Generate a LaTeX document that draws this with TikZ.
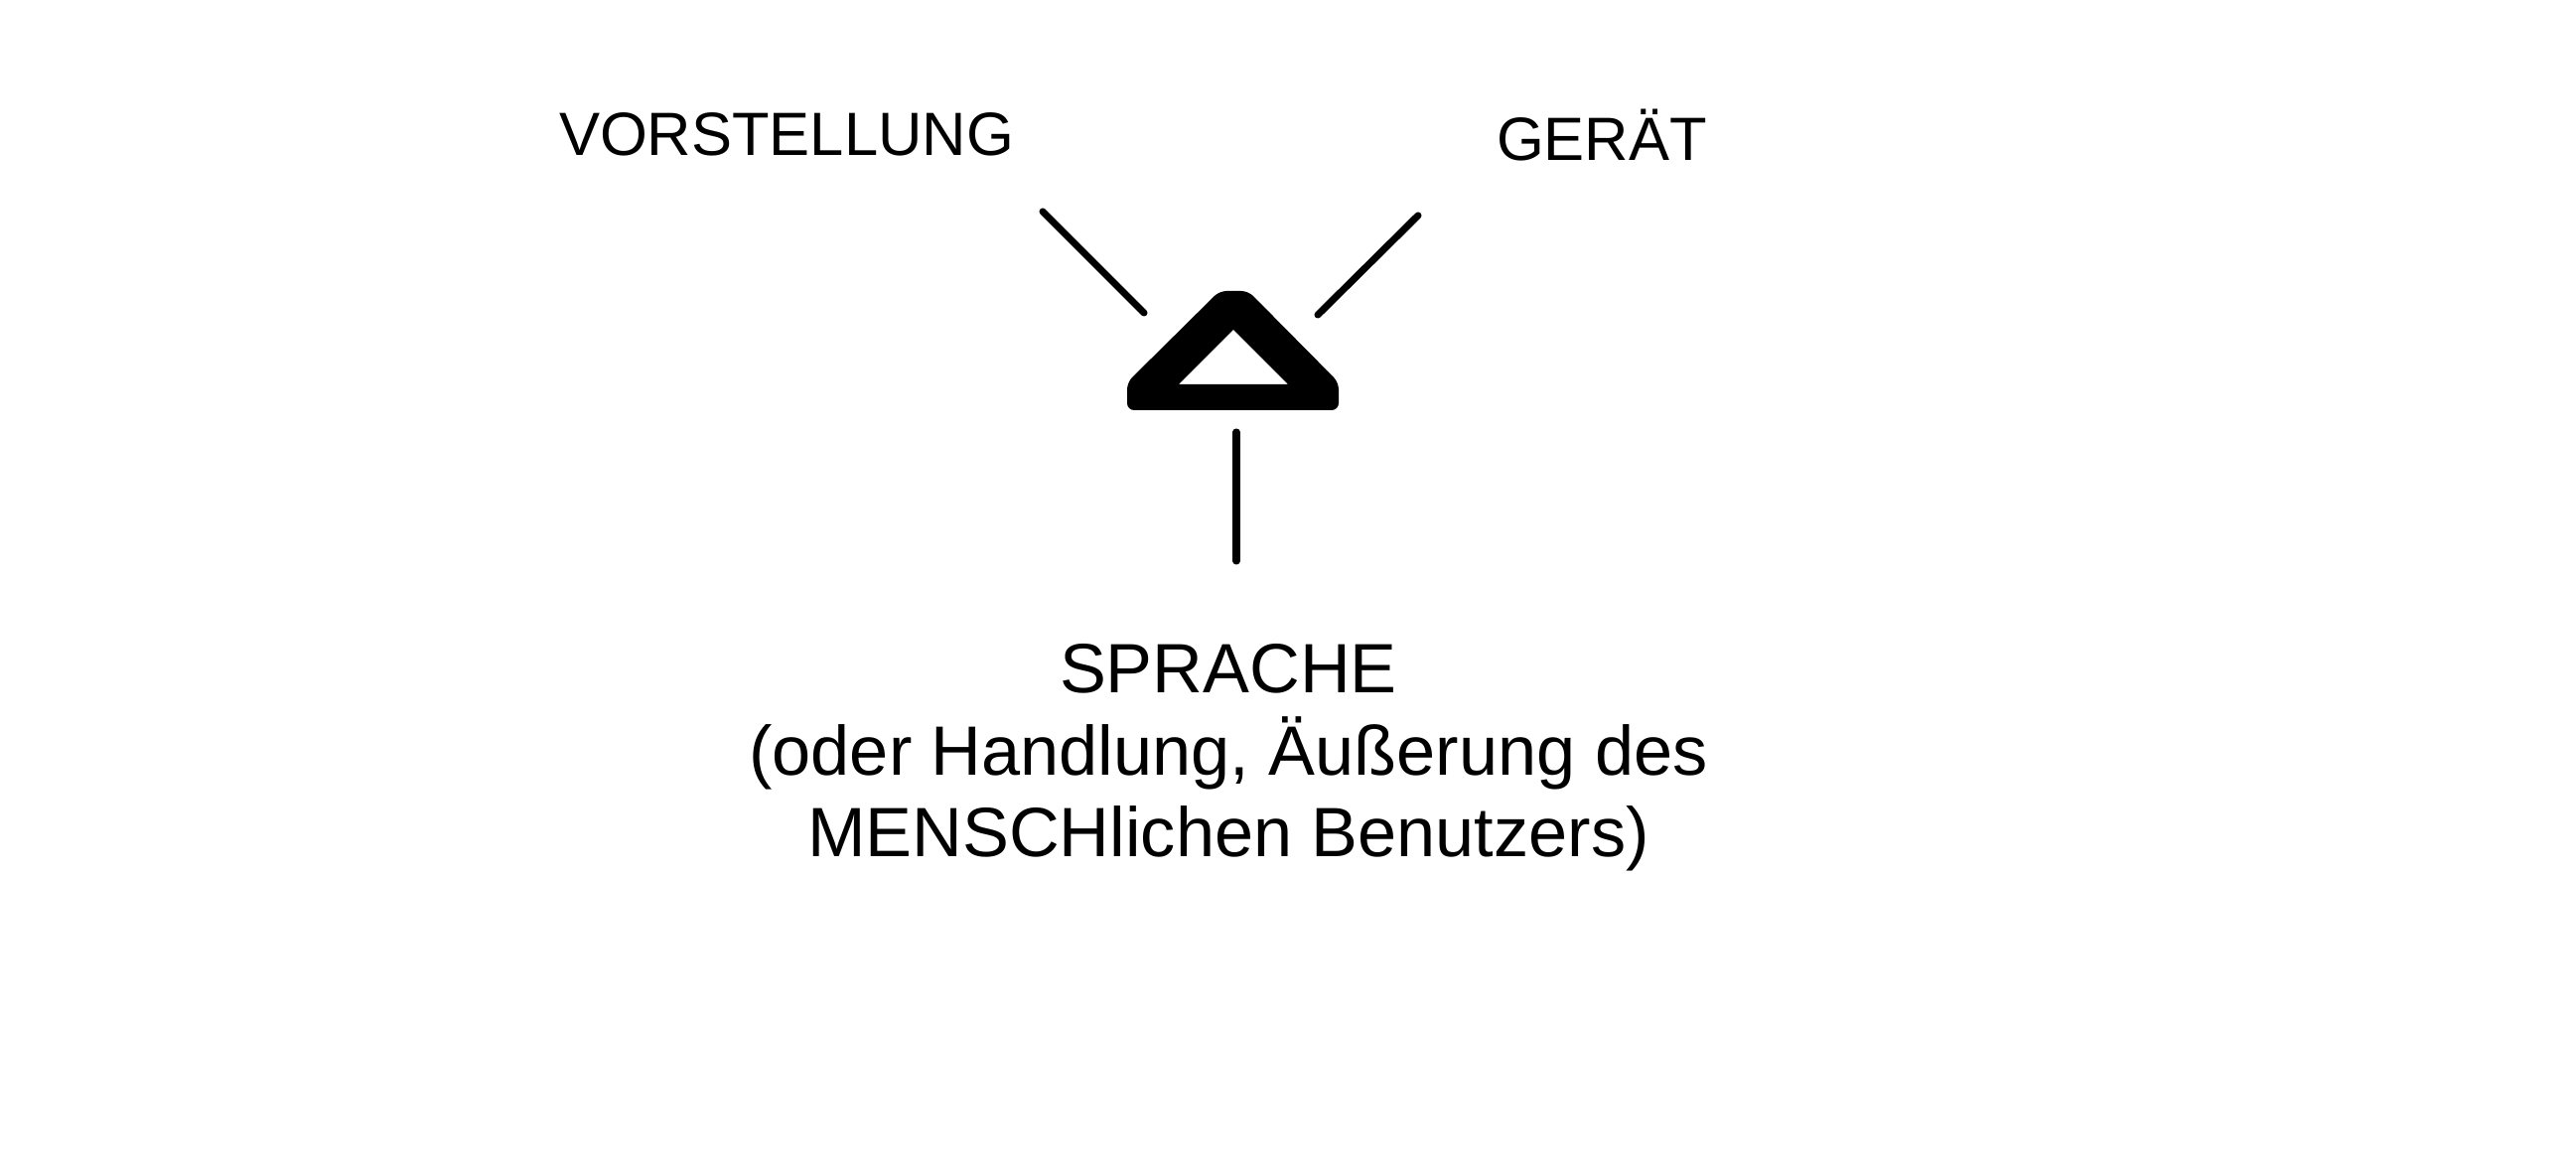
\documentclass[tikz,border=0pt]{standalone}
\usepackage{fontspec}
\setmainfont{Liberation Sans}
\usetikzlibrary{positioning,calc}

\begin{document}
\begin{tikzpicture}[
  lbl/.style={font=\fontsize{17.5}{21}\selectfont, inner sep=0pt, anchor=base},
  ray/.style={line width=2pt, line cap=round}]
  \useasboundingbox (0,0) rectangle (25.94,11.78);
  % thick triangle in the middle
  \fill[even odd rule, rounded corners=2pt] (11.35,7.65) -- (11.35,7.93) -- (12.28,8.85) -- (12.57,8.85) -- (13.48,7.93) -- (13.48,7.65) -- cycle
    [sharp corners] (11.87,7.91) -- (12.97,7.91) -- (12.42,8.46) -- cycle;
  \node[lbl](vorst) at (7.92,10.21){VORSTELLUNG};
  \node[lbl](geraet) at (16.13,10.16){GERÄT};
  \node[inner sep=0pt, anchor=north, align=center, font=\fontsize{20}{23.4}\selectfont](sprache) at (12.37,5.30)
      {SPRACHE\\(oder Handlung, Äußerung des\\MENSCHlichen Benutzers)};
  \coordinate (vl) at (10.50,9.65); \coordinate (vt) at (11.52,8.63);
  \coordinate (gl) at (14.28,9.61); \coordinate (gt) at (13.27,8.61);
  \coordinate (st) at (12.45,7.43); \coordinate (sl) at (12.45,6.13);
  \draw[ray](vl)--(vt); \draw[ray](gl)--(gt); \draw[ray](st)--(sl);
\end{tikzpicture}
\end{document}
